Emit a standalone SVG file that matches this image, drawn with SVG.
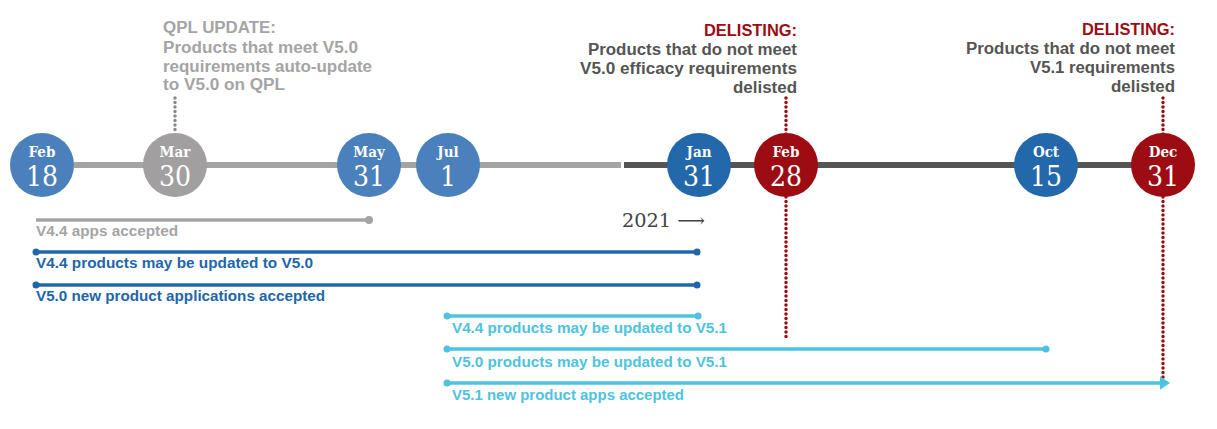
<svg xmlns="http://www.w3.org/2000/svg" width="1217" height="429" viewBox="0 0 1217 429">
<style>
.mon{font-family:"DejaVu Serif",serif;font-stretch:condensed;font-weight:bold;font-size:15px;fill:#fff;text-anchor:middle}
.num{font-family:"DejaVu Serif",serif;font-stretch:condensed;font-size:28px;fill:#fff;text-anchor:middle}
.note{font-family:"Liberation Sans",Arial,sans-serif;font-weight:bold;font-size:16px}
.lbl{font-family:"Liberation Sans",Arial,sans-serif;font-weight:bold;font-size:14px}
.dotg{stroke:#8a8a8a;stroke-width:3.5;stroke-linecap:round;stroke-dasharray:0 4.5;fill:none}
.dotr{stroke:#9b0d14;stroke-width:3.5;stroke-linecap:round;stroke-dasharray:0 4.5;fill:none}
.bar{stroke-width:3.5;fill:none}
</style>
<defs>
<marker id="arr" markerWidth="4" markerHeight="4" refX="1" refY="2" orient="auto" markerUnits="strokeWidth">
<path d="M0,0 L3,2 L0,4 Z" fill="#4ec3e0"/>
</marker>
</defs>
<rect width="1217" height="429" fill="#fff"/>
<g id="connectors">
<line class="dotg" x1="175" y1="98" x2="175" y2="133"/>
<line class="dotr" x1="786" y1="98" x2="786" y2="340"/>
<line class="dotr" x1="1163" y1="98" x2="1163" y2="378"/>
<line x1="74" y1="165" x2="621" y2="165" stroke="#a5a4a5" stroke-width="6"/>
<line x1="624" y1="165" x2="1140" y2="165" stroke="#555" stroke-width="6"/>
<g id="bars">
<line class="bar" x1="36" y1="220" x2="369" y2="220" stroke="#a5a4a5"/>
<circle cx="369" cy="220" r="4" fill="#a5a4a5"/>
<line class="bar" x1="36" y1="252" x2="697" y2="252" stroke="#2266aa"/>
<circle cx="36" cy="252" r="3.5" fill="#2266aa"/><circle cx="697" cy="252" r="3.5" fill="#2266aa"/>
<line class="bar" x1="36" y1="285" x2="697" y2="285" stroke="#2266aa"/>
<circle cx="36" cy="285" r="3.5" fill="#2266aa"/><circle cx="697" cy="285" r="3.5" fill="#2266aa"/>
<line class="bar" x1="447" y1="316" x2="698" y2="316" stroke="#4ec3e0"/>
<circle cx="447" cy="316" r="3.5" fill="#4ec3e0"/><circle cx="698" cy="316" r="3.5" fill="#4ec3e0"/>
<line class="bar" x1="447" y1="349" x2="1046" y2="349" stroke="#4ec3e0"/>
<circle cx="447" cy="349" r="3.5" fill="#4ec3e0"/><circle cx="1046" cy="349" r="3.5" fill="#4ec3e0"/>
<line class="bar" x1="447" y1="383" x2="1163" y2="383" stroke="#4ec3e0" marker-end="url(#arr)"/>
<circle cx="447" cy="383" r="3.5" fill="#4ec3e0"/>
</g>
</g>
<g id="n-feb18"><circle cx="42" cy="165" r="32" fill="#4a80bb"/><text class="mon" x="42" y="157">Feb</text><text class="num" x="42" y="186">18</text></g>
<g id="n-mar30"><circle cx="175" cy="165" r="32" fill="#a19fa0"/><text class="mon" x="175" y="157">Mar</text><text class="num" x="175" y="186">30</text></g>
<g id="n-may31"><circle cx="369" cy="165" r="32" fill="#4a80bb"/><text class="mon" x="369" y="157">May</text><text class="num" x="369" y="186">31</text></g>
<g id="n-jul1"><circle cx="448" cy="165" r="32" fill="#4a80bb"/><text class="mon" x="448" y="157">Jul</text><text class="num" x="448" y="186">1</text></g>
<g id="n-jan31"><circle cx="699" cy="165" r="32" fill="#2368ab"/><text class="mon" x="699" y="157">Jan</text><text class="num" x="699" y="186">31</text></g>
<g id="n-feb28"><circle cx="786" cy="165" r="32" fill="#9c0c12"/><text class="mon" x="786" y="157">Feb</text><text class="num" x="786" y="186">28</text></g>
<g id="n-oct15"><circle cx="1046" cy="165" r="32" fill="#2368ab"/><text class="mon" x="1046" y="157">Oct</text><text class="num" x="1046" y="186">15</text></g>
<g id="n-dec31"><circle cx="1163" cy="165" r="32" fill="#9c0c12"/><text class="mon" x="1163" y="157">Dec</text><text class="num" x="1163" y="186">31</text></g>
<g id="note-qpl" class="note" fill="#a5a4a5">
<text x="163" y="33" textLength="113" lengthAdjust="spacingAndGlyphs">QPL UPDATE:</text>
<text x="163" y="53" textLength="195" lengthAdjust="spacingAndGlyphs">Products that meet V5.0</text>
<text x="163" y="72" textLength="209" lengthAdjust="spacingAndGlyphs">requirements auto-update</text>
<text x="163" y="90" textLength="122" lengthAdjust="spacingAndGlyphs">to V5.0 on QPL</text>
</g>
<g id="note-delist1" class="note" text-anchor="end">
<text x="797" y="36" fill="#9c0c12" textLength="93" lengthAdjust="spacingAndGlyphs">DELISTING:</text>
<text x="797" y="55" fill="#555" textLength="209" lengthAdjust="spacingAndGlyphs">Products that do not meet</text>
<text x="797" y="74" fill="#555" textLength="217" lengthAdjust="spacingAndGlyphs">V5.0 efficacy requirements</text>
<text x="797" y="93" fill="#555" textLength="64" lengthAdjust="spacingAndGlyphs">delisted</text>
</g>
<g id="note-delist2" class="note" text-anchor="end">
<text x="1175" y="35" fill="#9c0c12" textLength="93" lengthAdjust="spacingAndGlyphs">DELISTING:</text>
<text x="1175" y="54" fill="#555" textLength="209" lengthAdjust="spacingAndGlyphs">Products that do not meet</text>
<text x="1175" y="73" fill="#555" textLength="145" lengthAdjust="spacingAndGlyphs">V5.1 requirements</text>
<text x="1175" y="92" fill="#555" textLength="64" lengthAdjust="spacingAndGlyphs">delisted</text>
</g>
<g id="year"><text x="622" y="227" font-family="DejaVu Serif,serif" font-stretch="condensed" font-size="19" fill="#444" textLength="83" lengthAdjust="spacingAndGlyphs">2021 ⟶</text></g>
<g id="labels" class="lbl">
<text x="36" y="236" fill="#a5a4a5" textLength="142" lengthAdjust="spacingAndGlyphs">V4.4 apps accepted</text>
<text x="36" y="268" fill="#2266aa" textLength="277" lengthAdjust="spacingAndGlyphs">V4.4 products may be updated to V5.0</text>
<text x="36" y="301" fill="#2266aa" textLength="289" lengthAdjust="spacingAndGlyphs">V5.0 new product applications accepted</text>
<text x="452" y="333" fill="#4ec3e0" textLength="275" lengthAdjust="spacingAndGlyphs">V4.4 products may be updated to V5.1</text>
<text x="452" y="367" fill="#4ec3e0" textLength="275" lengthAdjust="spacingAndGlyphs">V5.0 products may be updated to V5.1</text>
<text x="452" y="400" fill="#4ec3e0" textLength="232" lengthAdjust="spacingAndGlyphs">V5.1 new product apps accepted</text>
</g>
</svg>
